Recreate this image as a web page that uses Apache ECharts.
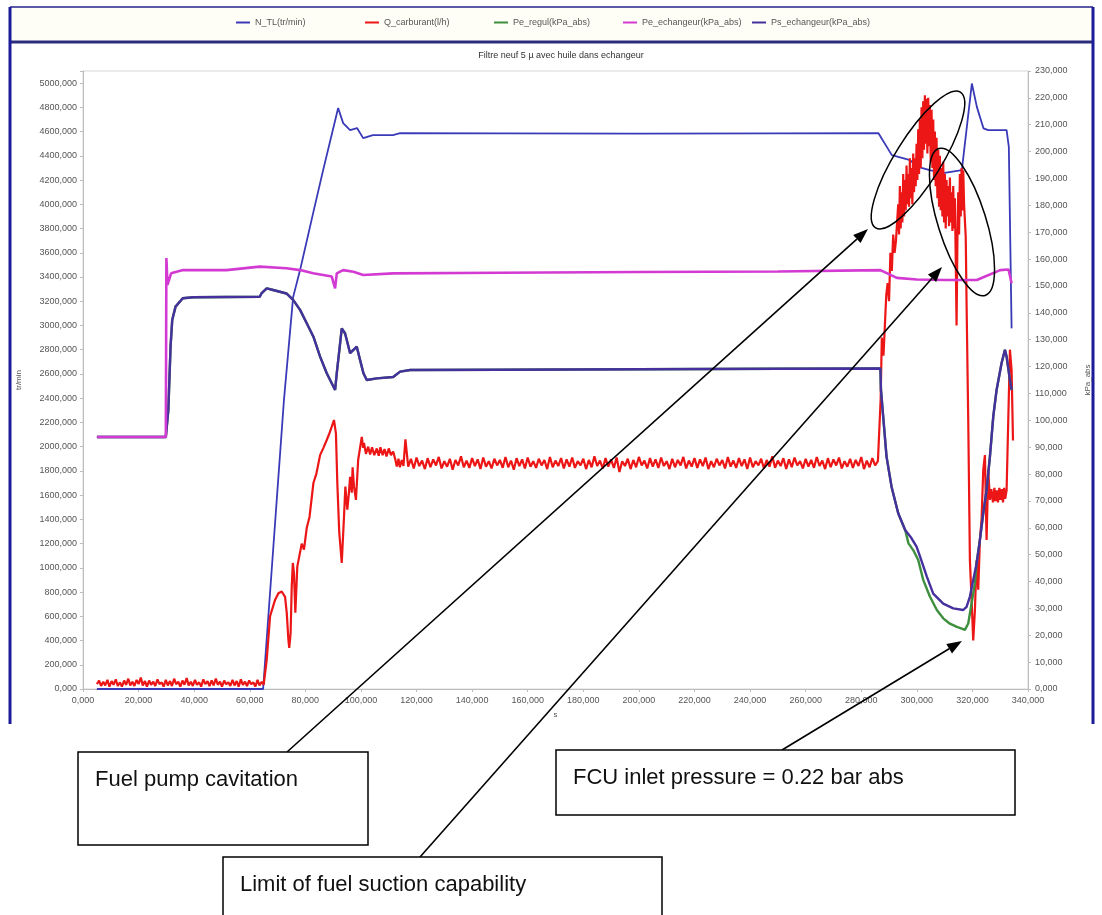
<!DOCTYPE html>
<html>
<head>
<meta charset="utf-8">
<title>Filtre neuf 5 µ avec huile dans echangeur</title>
<script src="https://cdn.jsdelivr.net/npm/echarts@6.0.0/dist/echarts.min.js"></script>
<style>
  html, body { margin: 0; padding: 0; background: #fff; }
  #chart { width: 1102px; height: 915px; }
</style>
</head>
<body>
<div id="chart"></div>
<script>
// [time (s), value] pairs
// N_TL (tr/min), left axis
const nTl = [
  [5, 0], [64.8, 0], [72.3, 2385], [75.6, 3234], [78.1, 3457], [82.8, 3927], [86.4, 4282],
  [91.8, 4794], [93.6, 4670], [96.1, 4612], [98.6, 4629], [100.8, 4546], [104.3, 4571],
  [111.5, 4571], [114.1, 4587], [150, 4585], [200, 4583], [250, 4585], [286.2, 4587],
  [289.2, 4474], [291, 4406], [297.6, 4365], [300, 4310], [305, 4280], [310, 4260],
  [316.2, 4282], [319.8, 4997], [321.6, 4804], [324, 4626], [325.7, 4612], [332.3, 4612],
  [333.1, 4474], [334.1, 2976]
];

// Q_carburant (l/h), left axis, in four stretches
const qIdle = [
  [5, 40], [5.8, 70], [6.5, 25], [7.3, 60], [8, 30], [8.8, 75], [9.5, 20], [10.3, 65], [11, 35],
  [11.8, 80], [12.5, 25], [13.3, 55], [14, 20], [14.8, 70], [15.5, 35], [16.3, 85], [17, 30],
  [17.8, 60], [18.5, 25], [19.3, 75], [20, 40], [20.8, 95], [21.5, 30], [22.3, 65], [23, 20],
  [23.8, 70], [24.5, 35], [25.3, 60], [26, 25], [26.8, 80], [27.5, 40], [28.3, 55], [29, 20],
  [29.8, 75], [30.5, 30], [31.3, 65], [32, 25], [32.8, 85], [33.5, 40], [34.3, 60], [35, 20],
  [35.8, 70], [36.5, 35], [37.3, 90], [38, 30], [38.8, 60], [39.5, 25], [40.3, 75], [41, 35],
  [41.8, 55], [42.5, 20], [43.3, 80], [44, 40], [44.8, 65], [45.5, 25], [46.3, 70], [47, 30],
  [47.8, 85], [48.5, 35], [49.3, 60], [50, 20], [50.8, 70], [51.5, 40], [52.3, 55], [53, 25],
  [53.8, 75], [54.5, 30], [55.3, 65], [56, 20], [56.8, 80], [57.5, 35], [58.3, 60], [59, 25],
  [59.8, 70], [60.5, 40], [61.3, 55], [62, 20], [62.8, 75], [63.5, 30], [64.3, 60], [65, 35]
];
const qStart = [
  [65.5, 20], [66.1, 240], [67.3, 600], [69.1, 735], [70.3, 790], [71.5, 805], [72.7, 760],
  [73.3, 630], [73.9, 405], [74.2, 340], [74.7, 460], [75.1, 845], [75.5, 1040], [75.9, 955],
  [76.4, 630], [77.1, 1010], [78.7, 1200], [79.5, 1150], [80.5, 1330], [81.5, 1420],
  [82.9, 1700], [84, 1780], [85.3, 1930], [86.5, 1990], [87.7, 2055], [88.5, 2100],
  [89.5, 2165], [90.3, 2220], [91, 2110], [91.5, 1700], [92.2, 1290], [93.1, 1040],
  [93.9, 1420], [94.4, 1670], [95.1, 1480], [95.6, 1600], [96.1, 1750], [96.7, 1620],
  [97, 1830], [97.5, 1670], [98.2, 1560], [99, 1890], [100.3, 2080], [100.8, 1990],
  [101.1, 2030], [101.8, 1940], [102.6, 2000], [103.3, 1935], [104, 1995], [104.8, 1930],
  [105.7, 1985], [106.4, 1925], [107, 1995], [107.8, 1930], [108.5, 1980], [109.2, 1920],
  [110, 1985], [110.8, 1930], [111.6, 1960], [112.3, 1900], [112.9, 1835], [113.5, 1900],
  [114, 1830], [114.7, 1890], [115.3, 1840]
];
const qSteady = [
  [116, 2060], [117, 1835], [118, 1900], [119, 1820], [120, 1910], [121, 1840], [122, 1885],
  [123, 1815], [124, 1905], [125, 1830], [126, 1895], [127, 1845], [128, 1915], [129, 1820],
  [130, 1880], [131, 1835], [132, 1900], [133, 1810], [134, 1890], [135, 1845], [136, 1920],
  [137, 1830], [138, 1885], [139, 1825], [140, 1905], [141, 1840], [142, 1895], [143, 1815],
  [144, 1910], [145, 1835], [146, 1880], [147, 1820], [148, 1900], [149, 1845], [150, 1890],
  [151, 1825], [152, 1915], [153, 1830], [154, 1885], [155, 1810], [156, 1905], [157, 1840],
  [158, 1895], [159, 1820], [160, 1910], [161, 1835], [162, 1880], [163, 1825], [164, 1900],
  [165, 1845], [166, 1890], [167, 1815], [168, 1915], [169, 1830], [170, 1885], [171, 1840],
  [172, 1905], [173, 1820], [174, 1895], [175, 1835], [176, 1910], [177, 1825], [178, 1880],
  [179, 1845], [180, 1900], [181, 1815], [182, 1890], [183, 1830], [184, 1920], [185, 1840],
  [186, 1885], [187, 1820], [188, 1905], [189, 1835], [190, 1895], [191, 1825], [192, 1910],
  [193, 1790], [194, 1880], [195, 1840], [196, 1900], [197, 1815], [198, 1890], [199, 1830],
  [200, 1915], [201, 1845], [202, 1885], [203, 1820], [204, 1905], [205, 1835], [206, 1895],
  [207, 1825], [208, 1910], [209, 1840], [210, 1880], [211, 1815], [212, 1900], [213, 1830],
  [214, 1890], [215, 1845], [216, 1915], [217, 1820], [218, 1885], [219, 1835], [220, 1905],
  [221, 1825], [222, 1895], [223, 1840], [224, 1910], [225, 1815], [226, 1880], [227, 1830],
  [228, 1900], [229, 1845], [230, 1890], [231, 1820], [232, 1915], [233, 1835], [234, 1885],
  [235, 1825], [236, 1905], [237, 1840], [238, 1895], [239, 1815], [240, 1910], [241, 1830],
  [242, 1880], [243, 1845], [244, 1900], [245, 1820], [246, 1890], [247, 1835], [248, 1920],
  [249, 1825], [250, 1885], [251, 1840], [252, 1905], [253, 1815], [254, 1895], [255, 1830],
  [256, 1910], [257, 1845], [258, 1880], [259, 1820], [260, 1900], [261, 1835], [262, 1890],
  [263, 1825], [264, 1915], [265, 1840], [266, 1885], [267, 1815], [268, 1905], [269, 1830],
  [270, 1895], [271, 1845], [272, 1910], [273, 1820], [274, 1880], [275, 1835], [276, 1900],
  [277, 1825], [278, 1890], [279, 1840], [280, 1915], [281, 1815], [282, 1885], [283, 1830],
  [284, 1905], [285, 1845], [286, 1880]
];
const qCavitation = [
  [286.5, 1880], [287, 2400], [287.4, 2900], [288, 2750], [288.5, 3000], [289, 3250],
  [289.5, 3350], [290, 3200], [290.5, 3600], [291, 3450], [291.5, 3750], [292, 3600],
  [292.5, 3700], [293, 3700], [293.3, 4000], [293.6, 3750], [293.9, 4150], [294.2, 3800],
  [294.5, 4100], [294.8, 3850], [295.1, 4250], [295.4, 3900], [295.7, 4200], [296, 3950],
  [296.3, 4320], [296.6, 4000], [296.9, 4250], [297.2, 3980], [297.5, 4380], [297.8, 4050],
  [298.1, 4300], [298.4, 4000], [298.7, 4420], [299, 4100], [299.3, 4380], [299.6, 4150],
  [299.9, 4500], [300.2, 4200], [300.5, 4620], [300.8, 4250], [301.1, 4700], [301.4, 4300],
  [301.7, 4800], [302, 4380], [302.3, 4850], [302.6, 4450], [302.9, 4900], [303.2, 4500],
  [303.5, 4870], [303.8, 4420], [304.1, 4880], [304.4, 4480], [304.7, 4820], [305, 4350],
  [305.3, 4780], [305.6, 4300], [305.9, 4700], [306.2, 4200], [306.5, 4600], [306.8, 4150],
  [307.1, 4550], [307.4, 4050], [307.7, 4450], [308, 3980], [308.3, 4400], [308.6, 3950],
  [308.9, 4300], [309.2, 3900], [309.5, 4350], [309.8, 3850], [310.1, 4250], [310.4, 3800],
  [310.7, 4200], [311, 3900], [311.3, 4150], [311.6, 3820], [311.9, 4220], [312.2, 3850],
  [312.5, 4100], [312.8, 3780], [313.1, 4150], [313.4, 3800], [313.7, 4050], [314, 3550],
  [314.3, 3000], [314.6, 3700], [314.9, 4100], [315.2, 3750], [315.5, 4250], [315.8, 3900],
  [316.1, 4300], [316.4, 3950], [316.7, 4280], [317, 4000], [317.6, 3730], [317.9, 3180],
  [318.5, 2220], [319.1, 1060], [319.7, 740], [320.3, 400], [320.9, 650], [321.5, 1060],
  [322.1, 820], [322.7, 1230], [323.3, 1400], [323.9, 1810], [324.5, 1930], [325.1, 1230],
  [325.7, 1810], [326.3, 1560], [326.8, 1650], [327.4, 1540], [327.9, 1660], [328.3, 1550],
  [328.8, 1640], [329.2, 1540], [329.7, 1660], [330.1, 1560], [330.6, 1650], [331, 1540],
  [331.4, 1660], [331.8, 1570], [332.3, 1640], [332.9, 2220], [333.5, 2800], [334.1, 2630],
  [334.6, 2050]
];

// pressures (kPa_abs), right axis
const peEchangeur = [
  [5, 93.8], [29.8, 93.8], [30, 160.4], [30.4, 150.4], [31.7, 154.7], [36, 155.9],
  [51.6, 155.9], [63.6, 157.2], [73.2, 156.6], [78.1, 155.9], [82.8, 154.7], [89.5, 153.5],
  [90.7, 149.1], [91.3, 154.7], [93.6, 155.9], [97.3, 155.3], [100.8, 154.1], [111.6, 154.7],
  [150, 154.9], [200, 155.2], [250, 155.4], [286.9, 155.9], [292.8, 153], [300, 152.4],
  [310, 152.2], [321.6, 152.2], [330, 155.9], [333, 156.1], [334.1, 151]
];
// common part of Pe_regul and Ps_echangeur, until they split in the dip
const pressureShared = [
  [5, 93.8], [29.8, 93.8], [30.7, 103.8], [31.5, 127.4], [32.1, 137.3], [33.3, 142.3],
  [35.9, 145.4], [39.7, 145.8], [63.6, 146], [64.2, 147.2], [66.1, 149.1], [68.4, 148.5],
  [73.2, 147.2], [75.6, 144.8], [78.1, 141.1], [80.5, 136.1], [82.9, 131.1], [85.3, 123.7],
  [87.7, 117.5], [90.7, 111.3], [91.3, 117.5], [93.1, 134.2], [94.3, 132.3], [94.9, 129.9],
  [96.1, 125], [97.3, 126.2], [98.5, 127.4], [99.7, 122.4], [100.9, 117.5], [102.1, 115],
  [105.7, 115.6], [111.6, 116.1], [114.1, 118.1], [117.7, 118.7], [150, 118.8], [200, 119],
  [250, 119.2], [286.9, 119.3], [287.1, 111.3], [288.1, 98.9], [289.1, 86.5], [290.9, 75.3],
  [293.3, 65.4], [295.8, 59.2]
];
const psDip = [
  [298.1, 56.1], [299.9, 53], [301.2, 49.2], [303.6, 41.8], [305.9, 35.5], [309.5, 31.8],
  [313.1, 30], [316.7, 29.4], [317.9, 30.6], [319.1, 34.4], [320.3, 40.6], [321.5, 46.7]
];
const peRegulDip = [
  [297, 54.2], [298.7, 51.7], [300.5, 48], [302.3, 40.6], [304.7, 34.4], [307.2, 29.4],
  [309.5, 26.3], [311.9, 24.3], [314.4, 23.1], [316.2, 22.5], [317.3, 22], [318.5, 24.4],
  [319.7, 31.8], [320.9, 39.3], [321.5, 46.7]
];
const pressureRecovery = [
  [322.7, 55.5], [323.9, 65.4], [325.1, 74.1], [326.3, 86.5], [327.5, 101.4], [328.7, 111.3],
  [329.3, 111.3], [330.5, 121.3], [331.7, 126.2], [332.3, 123.7], [333.5, 115], [334.1, 111.3]
];

const seriesNames = ['N_TL(tr/min)', 'Q_carburant(l/h)', 'Pe_regul(kPa_abs)', 'Pe_echangeur(kPa_abs)', 'Ps_echangeur(kPa_abs)'];
const colors = {
  nTl: '#3a3ab8',
  q: '#ec1616',
  peRegul: '#3d8f3d',
  peEch: '#d23ad2',
  psEch: '#45309e'
};
const FONT = 'Liberation Sans, Arial, sans-serif';

const chart = echarts.init(document.getElementById('chart'));

const axisFmt = v => (v % 1 === 0 ? v + ',000' : '');

function arrow(x1, y1, x2, y2) {
  const len = Math.hypot(x2 - x1, y2 - y1);
  const ux = (x2 - x1) / len, uy = (y2 - y1) / len;
  const bx = x2 - ux * 15, by = y2 - uy * 15;
  return [
    { type: 'line', z: 50, shape: { x1: x1, y1: y1, x2: bx, y2: by }, style: { stroke: '#000', lineWidth: 1.6 } },
    { type: 'polygon', z: 50, shape: { points: [[x2, y2], [bx - uy * 5.5, by + ux * 5.5], [bx + uy * 5.5, by - ux * 5.5]] }, style: { fill: '#000' } }
  ];
}
function ellipse(cx, cy, rx, ry, deg) {
  return {
    type: 'ellipse', z: 50, x: cx, y: cy, rotation: deg * Math.PI / 180,
    shape: { cx: 0, cy: 0, rx: rx, ry: ry },
    style: { fill: 'transparent', stroke: '#000', lineWidth: 1.5 }
  };
}
function noteBox(x, y, w, h, text) {
  return [
    { type: 'rect', z: 60, shape: { x: x, y: y, width: w, height: h }, style: { fill: '#fff', stroke: '#000', lineWidth: 1.5 } },
    { type: 'text', z: 61, x: x + 17, y: y + 28, style: { text: text, fill: '#111', font: '22px ' + FONT, textVerticalAlign: 'middle' } }
  ];
}

const options = {
  animation: false,
  backgroundColor: '#fff',
  title: {
    text: 'Filtre neuf 5 µ avec huile dans echangeur',
    left: 556, top: 46, textAlign: 'center',
    textStyle: { fontSize: 9, fontWeight: 'normal', color: '#333', fontFamily: FONT }
  },
  legend: seriesNames.map((name, i) => ({
    data: [name],
    left: 236 + i * 129,
    top: 18,
    padding: 0,
    icon: 'rect',
    itemWidth: 14,
    itemHeight: 2,
    selectedMode: false,
    textStyle: { fontSize: 9, color: '#555', fontFamily: FONT }
  })),
  grid: { left: 83, right: 74, top: 71, bottom: 226, show: true, borderColor: '#d6d6d6', borderWidth: 1 },
  xAxis: {
    type: 'value', min: 0, max: 340, interval: 20,
    name: 's', nameLocation: 'middle', nameGap: 22,
    nameTextStyle: { fontSize: 8, color: '#555', fontFamily: FONT },
    axisLine: { lineStyle: { color: '#bdbdbd' } },
    axisTick: { show: true, length: 3, lineStyle: { color: '#bdbdbd' } },
    axisLabel: { formatter: axisFmt, fontSize: 9, color: '#555', fontFamily: FONT, margin: 7 },
    splitLine: { show: false }
  },
  yAxis: [
    {
      type: 'value', min: 0, max: 5100, interval: 200, position: 'left',
      name: 'tr/min', nameLocation: 'middle', nameGap: 60,
      nameTextStyle: { fontSize: 8, color: '#555', fontFamily: FONT },
      axisLine: { show: true, lineStyle: { color: '#bdbdbd' } },
      axisTick: { show: true, length: 3, lineStyle: { color: '#bdbdbd' } },
      axisLabel: { formatter: v => (v % 200 === 0 ? v + ',000' : ''), fontSize: 9, color: '#555', fontFamily: FONT, margin: 6 },
      splitLine: { show: false }
    },
    {
      type: 'value', min: 0, max: 230, interval: 10, position: 'right',
      name: 'kPa_abs', nameLocation: 'middle', nameGap: 56,
      nameTextStyle: { fontSize: 8, color: '#555', fontFamily: FONT },
      axisLine: { show: true, lineStyle: { color: '#bdbdbd' } },
      axisTick: { show: true, length: 3, lineStyle: { color: '#bdbdbd' } },
      axisLabel: { formatter: axisFmt, fontSize: 9, color: '#555', fontFamily: FONT, margin: 7 },
      splitLine: { show: false }
    }
  ],
  series: [
    {
      name: seriesNames[0], type: 'line', yAxisIndex: 0, data: nTl,
      showSymbol: false, color: colors.nTl, lineStyle: { width: 1.8, color: colors.nTl }
    },
    {
      name: seriesNames[1], type: 'line', yAxisIndex: 0,
      data: qIdle.concat(qStart, qSteady, qCavitation),
      showSymbol: false, color: colors.q, lineStyle: { width: 2.2, color: colors.q }
    },
    {
      name: seriesNames[2], type: 'line', yAxisIndex: 1,
      data: pressureShared.concat(peRegulDip, pressureRecovery),
      showSymbol: false, color: colors.peRegul, lineStyle: { width: 2.4, color: colors.peRegul }
    },
    {
      name: seriesNames[4], type: 'line', yAxisIndex: 1,
      data: pressureShared.concat(psDip, pressureRecovery),
      showSymbol: false, color: colors.psEch, lineStyle: { width: 2.4, color: colors.psEch }
    },
    {
      name: seriesNames[3], type: 'line', yAxisIndex: 1, data: peEchangeur,
      showSymbol: false, color: colors.peEch, lineStyle: { width: 2.6, color: colors.peEch }
    }
  ],
  graphic: [
    // frame of the pasted chart
    { type: 'rect', z: -1, shape: { x: 10, y: 7, width: 1083, height: 35 }, style: { fill: '#fffef6' } },
    { type: 'line', shape: { x1: 10, y1: 7, x2: 1093, y2: 7 }, style: { stroke: '#5a5aa8', lineWidth: 2 } },
    { type: 'line', shape: { x1: 10, y1: 42, x2: 1093, y2: 42 }, style: { stroke: '#2c2c7e', lineWidth: 3 } },
    { type: 'line', shape: { x1: 10, y1: 7, x2: 10, y2: 724 }, style: { stroke: '#1c1c9a', lineWidth: 3 } },
    { type: 'line', shape: { x1: 1093, y1: 7, x2: 1093, y2: 724 }, style: { stroke: '#1c1c9a', lineWidth: 3 } },
    // callouts
    ellipse(918, 160, 80, 23, 58),
    ellipse(962, 222, 77, 24, -72.5),
    ...arrow(287, 752, 868, 229),
    ...arrow(420, 857, 942, 267),
    ...arrow(782, 750, 962, 641),
    ...noteBox(78, 752, 290, 93, 'Fuel pump cavitation'),
    ...noteBox(223, 857, 439, 75, 'Limit of fuel suction capability'),
    ...noteBox(556, 750, 459, 65, 'FCU inlet pressure = 0.22 bar abs')
  ]
};

chart.setOption(options);
</script>
</body>
</html>
